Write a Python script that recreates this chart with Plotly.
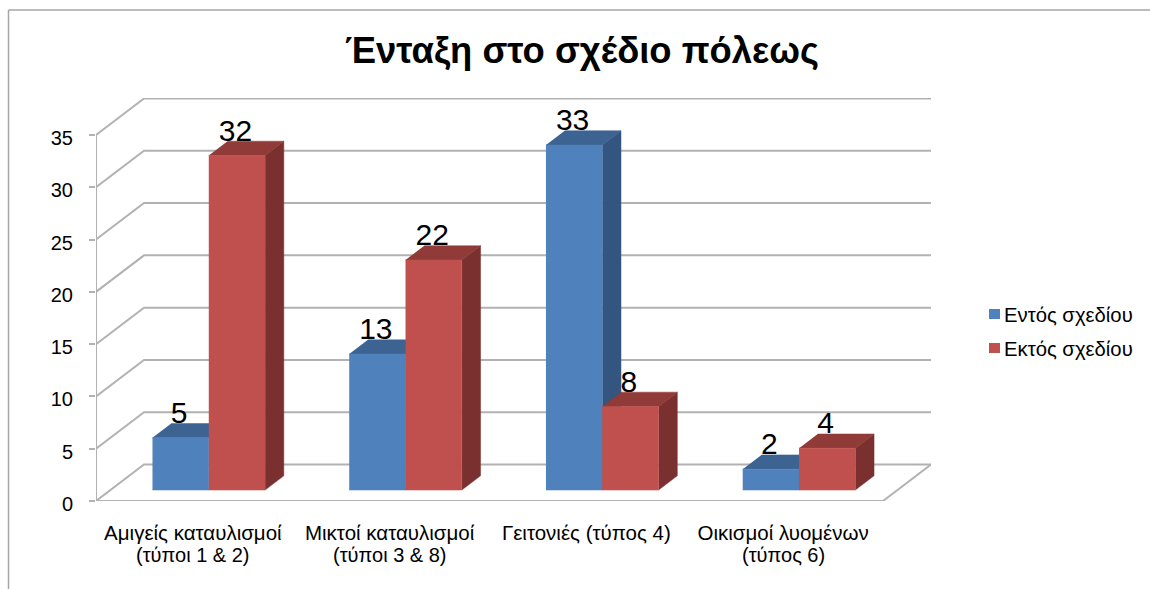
import plotly.graph_objects as go

category_line1 = ["Αμιγείς καταυλισμοί", "Μικτοί καταυλισμοί", "Γειτονιές (τύπος 4)", "Οικισμοί λυομένων"]
category_line2 = ["(τύποι 1 &amp; 2)", "(τύποι 3 &amp; 8)", "", "(τύπος 6)"]
series_names = ["Εντός σχεδίου", "Εκτός σχεδίου"]
inside_plan = [5, 13, 33, 2]
outside_plan = [32, 22, 8, 4]
y_ticks = [0, 5, 10, 15, 20, 25, 30, 35]
title_text = "Ένταξη στο σχέδιο πόλεως"

W, H = 1150, 589
FONT = "Liberation Sans"
# plot frame in pixels
PX0, PX1, PY0, PY1 = 96, 931, 501, 98
CAT_PX = 787 / 4
VAL_PX = 366 / 35
DEPTH_X = 48 / CAT_PX
DEPTH_Y = 36.5 / VAL_PX
BAR_W = 56.3 / CAT_PX
BAR_D0, BAR_D1 = 0.30, 0.69  # front / back depth fractions of the bars
LABEL_DROP = 7 / VAL_PX
LABEL_LEFT = 1.5 / CAT_PX
TICK_LEFT = 1.5 / CAT_PX
GRID = "#b2b2b2"
BLUE = ("#4f81bd", "#3c6392", "#33557f")
RED = ("#c0504d", "#913b39", "#7a302e")

fig = go.Figure()


def poly(xs, ys, color):
    fig.add_trace(go.Scatter(x=xs, y=ys, mode="lines", fill="toself", fillcolor=color,
                             line=dict(color=color, width=0.5), hoverinfo="skip", showlegend=False))


def line(xs, ys):
    fig.add_trace(go.Scatter(x=xs, y=ys, mode="lines", line=dict(color=GRID, width=2),
                             hoverinfo="skip", showlegend=False))


n = len(category_line1)
for v in y_ticks:
    line([0, DEPTH_X, n + DEPTH_X], [v, v + DEPTH_Y, v + DEPTH_Y])
line([0, 0], [0, y_ticks[-1]])
line([0, n, n + DEPTH_X], [0, 0, DEPTH_Y])


def bar(x, v, front, top, side):
    x0 = x + BAR_D0 * DEPTH_X
    y0 = BAR_D0 * DEPTH_Y
    dx = (BAR_D1 - BAR_D0) * DEPTH_X
    dy = (BAR_D1 - BAR_D0) * DEPTH_Y
    x1 = x0 + BAR_W
    poly([x1, x1 + dx, x1 + dx, x1], [y0, y0 + dy, y0 + v + dy, y0 + v], side)
    poly([x0, x1, x1 + dx, x0 + dx], [y0 + v, y0 + v, y0 + v + dy, y0 + v + dy], top)
    poly([x0, x1, x1, x0], [y0, y0, y0 + v, y0 + v], front)


label_x, label_y, label_text = [], [], []
for i in range(n):
    c = i + 0.5
    for j, (vals, cols) in enumerate(((inside_plan, BLUE), (outside_plan, RED))):
        left = c - BAR_W + j * BAR_W
        bar(left, vals[i], *cols)
        label_x.append(left + BAR_W / 2 + BAR_D0 * DEPTH_X - LABEL_LEFT)
        label_y.append(vals[i] + BAR_D1 * DEPTH_Y - LABEL_DROP)
        label_text.append(str(vals[i]))

fig.add_trace(go.Scatter(x=label_x, y=label_y, text=label_text, mode="text", textposition="top center",
                         textfont=dict(family=FONT, size=30, color="#000000"),
                         cliponaxis=False, hoverinfo="skip", showlegend=False))

annotations = []
shapes = [
    dict(type="line", xref="paper", yref="paper", x0=8.5 / W, x1=8.5 / W, y0=0, y1=1 - 10 / H,
         line=dict(color="#a6a6a6", width=1.5)),
    dict(type="line", xref="paper", yref="paper", x0=8.5 / W, x1=1, y0=1 - 10 / H, y1=1 - 10 / H,
         line=dict(color="#a6a6a6", width=1.5)),
]
for i, txt in enumerate(category_line2):
    if txt:
        annotations.append(dict(text=txt, x=i + 0.5 - TICK_LEFT, xref="x", y=1 - 555 / H, yref="paper",
                                yanchor="middle", xanchor="center", showarrow=False, borderpad=0,
                                font=dict(family=FONT, size=20, color="#000000")))
for k, (name, cols) in enumerate(zip(series_names, (BLUE, RED))):
    yc = 314 + 34 * k
    shapes.append(dict(type="rect", xref="paper", yref="paper", x0=989 / W, x1=1000 / W,
                       y0=1 - (yc + 5) / H, y1=1 - (yc - 5) / H, fillcolor=cols[0], line=dict(width=0)))
    annotations.append(dict(text=name, x=1002 / W, xref="paper", xanchor="left", y=1 - (yc + 1) / H,
                            yref="paper", yanchor="middle", showarrow=False,
                            font=dict(family=FONT, size=20.3, color="#000000")))

fig.update_layout(
    width=W, height=H, margin=dict(l=0, r=0, t=0, b=0), autosize=False, showlegend=False,
    paper_bgcolor="white", plot_bgcolor="rgba(0,0,0,0)",
    font=dict(family=FONT, size=20, color="#000000"),
    title=dict(text="<b>" + title_text + "</b>", x=582 / W, xanchor="center", xref="paper",
               y=1 - 50 / H, yanchor="middle", yref="paper",
               font=dict(family=FONT, size=36.4, color="#000000")),
    xaxis=dict(domain=[PX0 / W, PX1 / W], range=[0, (PX1 - PX0) / CAT_PX],
               tickmode="array", tickvals=[i + 0.5 - TICK_LEFT for i in range(n)], ticktext=category_line1,
               showgrid=False, zeroline=False, showline=False, ticks="outside", ticklen=13,
               tickcolor="rgba(0,0,0,0)", tickfont=dict(family=FONT, size=20.5, color="#000000"),
               automargin=False, fixedrange=True),
    yaxis=dict(domain=[1 - PY0 / H, 1 - PY1 / H], range=[0, (PY0 - PY1) / VAL_PX],
               tickmode="array", tickvals=y_ticks, ticktext=[str(t) for t in y_ticks],
               showgrid=False, zeroline=False, showline=False, ticks="outside", ticklen=6, tickwidth=2,
               tickcolor=GRID, ticklabelstandoff=12, ticklabelshift=3,
               tickfont=dict(family=FONT, size=20, color="#000000"),
               automargin=False, fixedrange=True),
    annotations=annotations,
    shapes=shapes,
)

fig.write_html("out.html", config={"displayModeBar": False},
               post_script="document.body.style.margin='0';document.documentElement.style.overflow='hidden';")
